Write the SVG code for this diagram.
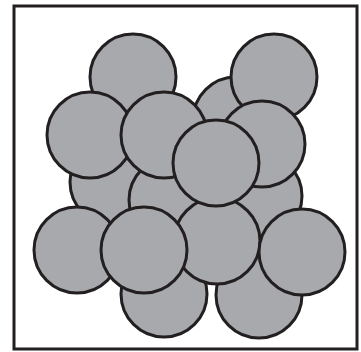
<svg xmlns="http://www.w3.org/2000/svg" width="361" height="352" viewBox="0 0 361 352">
<style>
.c{fill:#a7a9ac;stroke:#231f20;stroke-width:3}
.f{fill:#fff;stroke:#231f20;stroke-width:3}
</style>
<rect class="f" x="14" y="6" width="343" height="343"/>
<g id="back">
<circle id="n15" class="c" cx="164" cy="294" r="43"/>
<circle id="n16" class="c" cx="259" cy="295" r="43"/>
<circle id="n8" class="c" cx="113" cy="182" r="43"/>
<circle id="n9" class="c" cx="172" cy="200" r="43"/>
<circle id="n10" class="c" cx="259" cy="196" r="43"/>
<circle id="n11" class="c" cx="77" cy="250" r="43"/>
<circle id="n13" class="c" cx="217" cy="241" r="43"/>
<circle id="n12" class="c" cx="144" cy="250" r="43"/>
<circle id="n14" class="c" cx="302" cy="252" r="43"/>
<circle id="n3" class="c" cx="236" cy="120" r="43"/>
<circle id="n1" class="c" cx="133" cy="77" r="43"/>
<circle id="n2" class="c" cx="274" cy="77" r="43"/>
<circle id="n4" class="c" cx="90" cy="135" r="43"/>
<circle id="n5" class="c" cx="164" cy="135" r="43"/>
<circle id="n6" class="c" cx="262" cy="144" r="43"/>
<circle id="n7" class="c" cx="216" cy="163" r="43"/>
</g>
</svg>
